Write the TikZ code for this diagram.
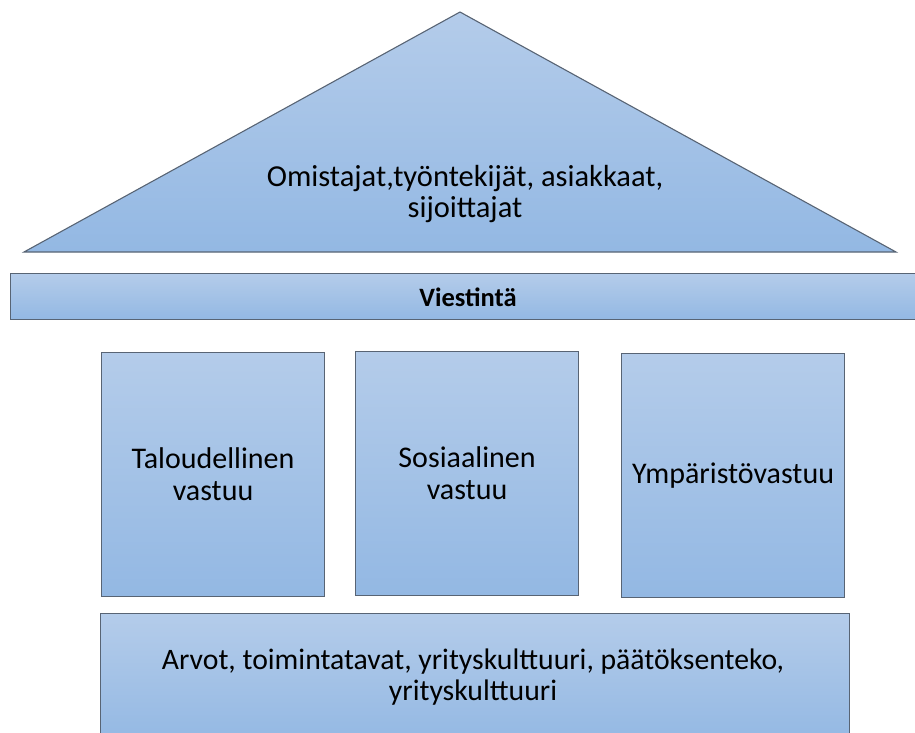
\documentclass[tikz,border=0pt]{standalone}
\usepackage{fontspec}
\setmainfont{Carlito}
\usepackage{tikz}
\usetikzlibrary{positioning, calc}

\definecolor{pillartop}{RGB}{180,204,234}
\definecolor{pillarbot}{RGB}{147,184,227}
\definecolor{pillarline}{RGB}{88,100,116}

\begin{document}
\begin{tikzpicture}[x=1pt, y=-1pt,
    part/.style={draw=pillarline, line width=1.1pt, top color=pillartop, bottom color=pillarbot},
    pillar/.style={part, minimum width=223pt, minimum height=244pt, inner sep=0pt, align=center, font=\fontsize{30}{32}\selectfont},
    label/.style={align=center, font=\fontsize{30.5}{31}\selectfont}]
  \useasboundingbox (0,0) rectangle (915,733);
  \clip (0,0) rectangle (915,733);

  % roof
  \coordinate (apex) at (460,12);
  \coordinate (eaveL) at (24,252);
  \coordinate (eaveR) at (896,252);
  \path[part, line join=miter] (eaveL) -- (apex) -- (eaveR) -- cycle;
  \node[label] (owners) at (465,194) {Omistajat,työntekijät, asiakkaat,\\sijoittajat};

  % beam
  \node[part, minimum width=912pt, minimum height=46pt, inner sep=0pt, anchor=north west] (beam) at (10,273) {};
  \node[font=\fontsize{26.5}{28}\selectfont\bfseries] (beamtext) at (468,297) {Viestintä};

  % pillars
  \node[pillar, anchor=north west] (econ) at (101,352) {Taloudellinen\\vastuu};
  \node[pillar, anchor=north west] (social) at (355,351) {Sosiaalinen\\vastuu};
  \node[pillar, anchor=north west] (env) at (621,353) {Ympäristövastuu};

  % base
  \node[part, minimum width=749pt, minimum height=130pt, inner sep=0pt, anchor=north west] (base) at (100,613) {};
  \node[label, font=\fontsize{29.7}{30.5}\selectfont] (basetext) at (473,677) {Arvot, toimintatavat, yrityskulttuuri, päätöksenteko,\\yrityskulttuuri};
\end{tikzpicture}
\end{document}
